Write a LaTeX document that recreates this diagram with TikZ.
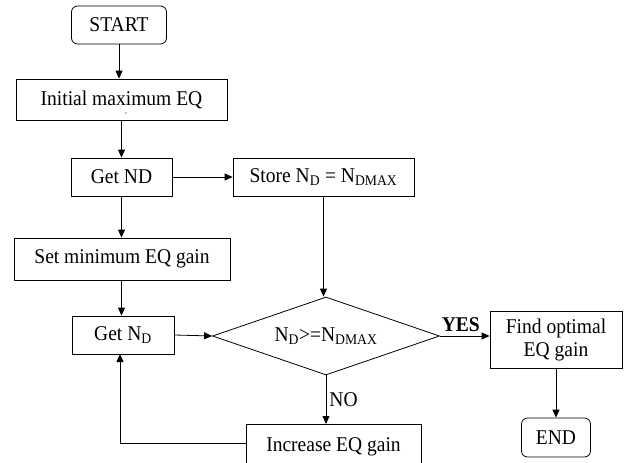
\documentclass[tikz,border=0pt]{standalone}
\usepackage{fontspec}
\setmainfont[FakeStretch=0.93]{Liberation Serif}
\usetikzlibrary{arrows.meta,shapes.geometric}
\begin{document}
\begin{tikzpicture}[x=1pt,y=-1pt,
  every node/.style={font=\fontsize{21}{23}\selectfont},
  box/.style={draw,line width=0.8pt,inner sep=0pt,align=center},
  term/.style={box,rounded corners=6pt},
  dec/.style={draw,line width=0.8pt,diamond,inner sep=0pt,aspect=2.9},
  arr/.style={line width=0.8pt,-{Triangle[length=8pt,width=7pt]}},
  lbl/.style={inner sep=1pt}]
\useasboundingbox (0,0) rectangle (629,463);
\clip (0,0) rectangle (629,463);
\node[term,minimum width=95pt,minimum height=38pt] (start) at (119,25) {START};
\node[box,minimum width=211pt,minimum height=41pt] (init) at (121.5,99.5) {Initial maximum EQ};
\fill (126,113) circle (0.7pt);
\node[box,minimum width=101pt,minimum height=38pt] (getnd) at (121.5,177) {Get ND};
\node[box,minimum width=181pt,minimum height=38pt] (store) at (323.5,177) {Store N\textsubscript{D} = N\textsubscript{DMAX}};
\node[box,minimum width=216pt,minimum height=42pt] (setmin) at (122,259) {Set minimum EQ gain};
\node[box,minimum width=102pt,minimum height=38pt] (getnd2) at (123,335) {Get N\textsubscript{D}};
\node[dec,minimum width=227pt,minimum height=78pt] (cmp) at (326,336) {N\textsubscript{D}>=N\textsubscript{DMAX}};
\node[box,minimum width=132pt,minimum height=57pt] (find) at (556,339.5) {Find optimal\\EQ gain};
\node[term,minimum width=69pt,minimum height=39pt] (end) at (556,437.5) {END};
\node[box,minimum width=175pt,minimum height=44pt,anchor=north] (inc) at (333.5,424) {Increase EQ gain};
\node[box,draw=none,minimum width=175pt,minimum height=39pt] (inctext) at (333.5,443.5) {};
\coordinate (loopup) at (120,354);
\draw[arr] (start) -- (start|-init.north);
\draw[arr] (init.south-|getnd) -- (getnd);
\draw[arr] (getnd) -- (store);
\draw[arr] (getnd) -- (getnd|-setmin.north);
\draw[arr] (setmin.south-|getnd) -- (getnd|-getnd2.north);
\draw[arr] (getnd2.east) -- (cmp.west);
\draw[arr] (store.south) -- (store.south|-cmp.north);
\draw[arr] (cmp.east) -- (cmp.east-|find.west) node[lbl,pos=0.42,above,yshift=3pt,font=\fontsize{21}{23}\selectfont\bfseries] (yes) {YES};
\draw[arr] (cmp.south) -- (cmp.south|-inc.north) node[lbl,midway,right,xshift=2pt] (no) {NO};
\draw[arr] (find) -- (end);
\draw[arr] (inctext.west) -| (loopup);
\end{tikzpicture}
\end{document}
